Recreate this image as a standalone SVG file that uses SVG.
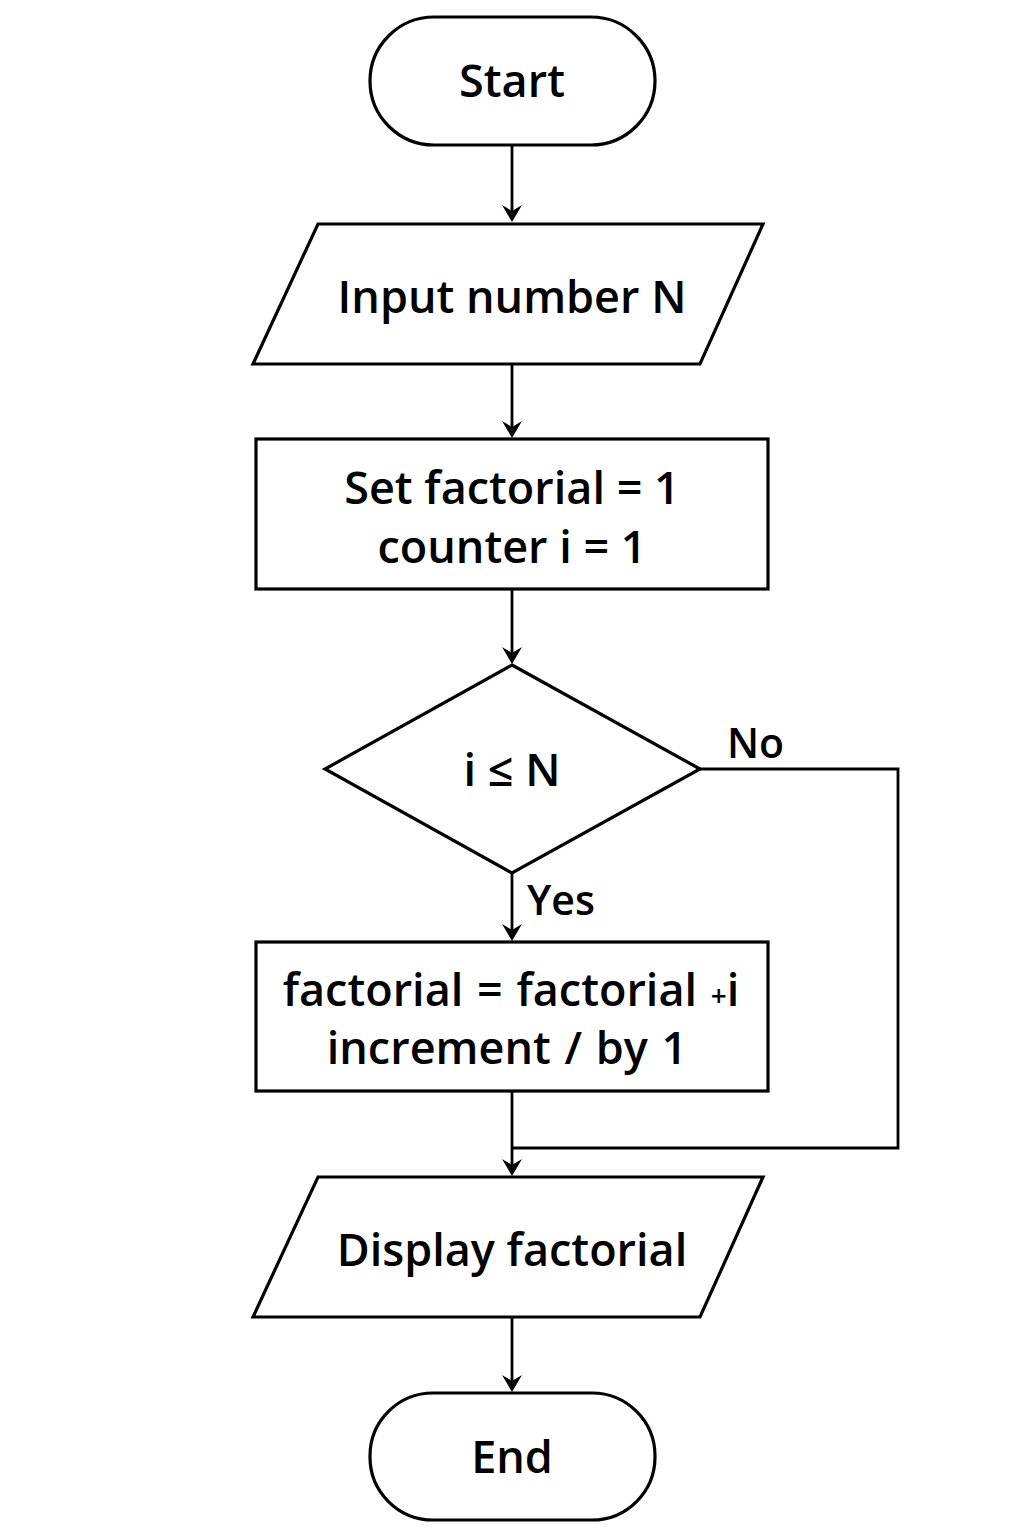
<svg xmlns="http://www.w3.org/2000/svg" width="1024" height="1536" viewBox="0 0 1024 1536">
<style>
.s{fill:#fff;stroke:#000;stroke-width:3.2}
.t{font-family:"Open Sans","Noto Sans",sans-serif;font-size:45px;font-weight:600;fill:#000;text-anchor:middle}
.l{font-family:"Open Sans","Noto Sans",sans-serif;font-size:41px;font-weight:600;fill:#000}
.c{fill:none;stroke:#000;stroke-width:2.8}
.a{fill:#000}
</style>
<rect width="1024" height="1536" fill="#fff"/>
<g id="connectors">
<path class="c" d="M512,145 V218"/>
<path class="c" d="M512,364 V433"/>
<path class="c" d="M512,589 V660"/>
<path class="c" d="M512,873 V936"/>
<path class="c" d="M700,769 H898 V1148 H512"/>
<path class="c" d="M512,1091 V1171"/>
<path class="c" d="M512,1317 V1387"/>
<path class="a" d="M502,205 L512,222 L522,205 L512,211 Z"/>
<path class="a" d="M502,421 L512,438 L522,421 L512,427 Z"/>
<path class="a" d="M502,647 L512,664 L522,647 L512,653 Z"/>
<path class="a" d="M502,924 L512,941 L522,924 L512,930 Z"/>
<path class="a" d="M502,1159 L512,1176 L522,1159 L512,1165 Z"/>
<path class="a" d="M502,1375 L512,1392 L522,1375 L512,1381 Z"/>
<text class="l" x="727" y="758">No</text>
<text class="l" x="527" y="915">Yes</text>
</g>
<g id="start">
<rect class="s" x="370" y="17" width="285" height="128" rx="64" ry="64"/>
<text class="t" x="512" y="97">Start</text>
</g>
<g id="input">
<polygon class="s" points="318,224 763,224 700,364 253,364"/>
<text class="t" x="512" y="313">Input number N</text>
</g>
<g id="init">
<rect class="s" x="256" y="439" width="512" height="150"/>
<text class="t" x="512" y="504">Set factorial = 1</text>
<text class="t" x="512" y="563">counter i = 1</text>
</g>
<g id="decision">
<polygon class="s" points="512,665 700,769 512,873 325,769"/>
<text class="t" x="512" y="786">i ≤ N</text>
</g>
<g id="update">
<rect class="s" x="256" y="942" width="512" height="149"/>
<text class="t" x="511" y="1006" word-spacing="2">factorial = factorial <tspan font-size="28">+</tspan>i</text>
<text class="t" x="507" y="1064" word-spacing="2">increment / by 1</text>
</g>
<g id="display">
<polygon class="s" points="318,1177 763,1177 700,1317 253,1317"/>
<text class="t" x="512" y="1266">Display factorial</text>
</g>
<g id="end">
<rect class="s" x="370" y="1393" width="285" height="127" rx="63" ry="63"/>
<text class="t" x="512" y="1473">End</text>
</g>
</svg>
